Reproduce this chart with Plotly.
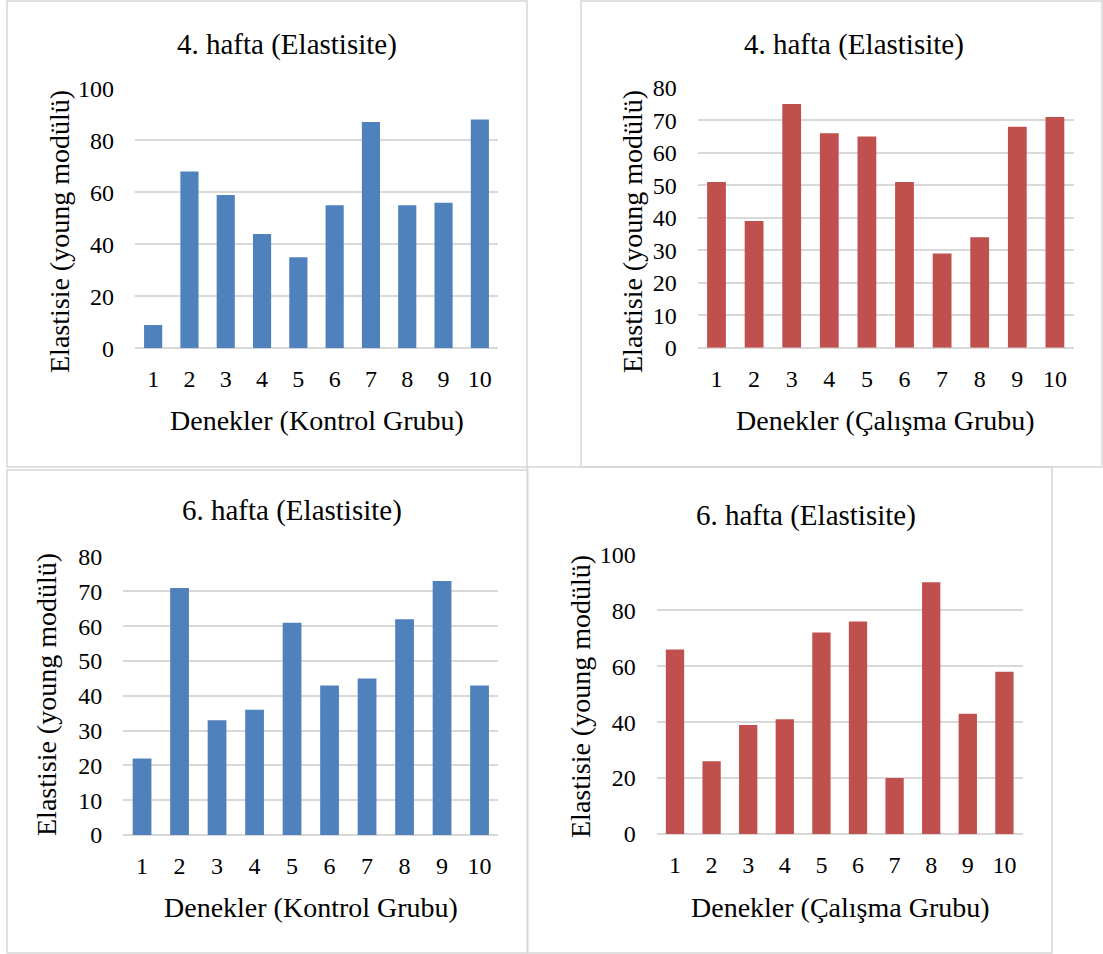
import plotly.graph_objects as go

# Subjects on the category axis
subjects = [str(i) for i in range(1, 11)]

# Elasticity (Young's modulus) per subject
kontrol_hafta4 = [9, 68, 59, 44, 35, 55, 87, 55, 56, 88]
calisma_hafta4 = [51, 39, 75, 66, 65, 51, 29, 34, 68, 71]
kontrol_hafta6 = [22, 71, 33, 36, 61, 43, 45, 62, 73, 43]
calisma_hafta6 = [66, 26, 39, 41, 72, 76, 20, 90, 43, 58]

chart_titles = ["4. hafta (Elastisite)", "4. hafta (Elastisite)",
                "6. hafta (Elastisite)", "6. hafta (Elastisite)"]
x_titles = ["Denekler (Kontrol Grubu)", "Denekler (Çalışma Grubu)",
            "Denekler (Kontrol Grubu)", "Denekler (Çalışma Grubu)"]
y_title = "Elastisie (young modülü)"
y_max = [100, 80, 80, 100]
y_step = [20, 10, 10, 20]

BLUE = "#4f81bd"
RED = "#c0504d"
GRID = "#d9d9d9"
BORDER = "#d6d6d6"
FONT = "Liberation Serif, Times New Roman, serif"

W, H = 1103, 954


def px(x):
    return x / W


def py(y):
    return 1 - y / H


# Layout of each chart box (pixels): frame, plot area, text anchors
panels = [
    dict(values=kontrol_hafta4, color=BLUE,
         frame=(7, 1, 527, 467), plot=(135, 88.3, 498, 348.3),
         title=(286.5, 44), ytitle=(59, 232), xtitle=(317, 420)),
    dict(values=calisma_hafta4, color=RED,
         frame=(581, 1, 1102, 467), plot=(697.7, 87.7, 1073.7, 347.8),
         title=(853.5, 44.5), ytitle=(632, 232), xtitle=(885, 420)),
    dict(values=kontrol_hafta6, color=BLUE,
         frame=(7, 470, 527.5, 953), plot=(123.3, 556.7, 498.3, 835),
         title=(292, 511), ytitle=(46, 695), xtitle=(311, 907)),
    dict(values=calisma_hafta6, color=RED,
         frame=(527.5, 467, 1052, 953), plot=(656.7, 554.3, 1022.7, 834),
         title=(806, 515), ytitle=(580, 697), xtitle=(840, 907)),
]

fig = go.Figure()
annotations = []
shapes = []

for i, p in enumerate(panels):
    n = "" if i == 0 else str(i + 1)
    fig.add_trace(go.Bar(
        x=subjects, y=p["values"],
        xaxis="x" + n, yaxis="y" + n,
        marker=dict(color=p["color"], line=dict(width=0)),
        showlegend=False,
    ))
    x0, y0, x1, y1 = p["plot"]
    fig.layout["xaxis" + n] = dict(
        domain=[px(x0), px(x1)], anchor="y" + n, type="category",
        automargin=False,
        showgrid=False, zeroline=False, showline=False, ticks="",
        ticklabelstandoff=14,
        tickfont=dict(family=FONT, size=24, color="#000000"),
    )
    fig.layout["yaxis" + n] = dict(
        domain=[py(y1), py(y0)], anchor="x" + n,
        automargin=False,
        range=[0, y_max[i]], dtick=y_step[i], tick0=0,
        showgrid=True, gridcolor=GRID, gridwidth=1.5,
        zeroline=True, zerolinecolor=GRID, zerolinewidth=1.5,
        showline=False, ticks="", ticklabelstandoff=20,
        tickfont=dict(family=FONT, size=24, color="#000000"),
    )
    fx0, fy0, fx1, fy1 = p["frame"]
    shapes.append(dict(type="rect", xref="paper", yref="paper",
                       x0=px(fx0), x1=px(fx1), y0=py(fy1), y1=py(fy0),
                       line=dict(color=BORDER, width=1.5),
                       fillcolor="rgba(0,0,0,0)", layer="below"))
    tx, ty = p["title"]
    annotations.append(dict(text=chart_titles[i], x=px(tx), y=py(ty),
                            xref="paper", yref="paper", showarrow=False,
                            xanchor="center", yanchor="middle",
                            font=dict(family=FONT, size=29, color="#000000")))
    ax, ay = p["ytitle"]
    annotations.append(dict(text=y_title, x=px(ax), y=py(ay), textangle=-90,
                            xref="paper", yref="paper", showarrow=False,
                            xanchor="center", yanchor="middle",
                            font=dict(family=FONT, size=28, color="#000000")))
    bx, by = p["xtitle"]
    annotations.append(dict(text=x_titles[i], x=px(bx), y=py(by),
                            xref="paper", yref="paper", showarrow=False,
                            xanchor="center", yanchor="middle",
                            font=dict(family=FONT, size=28, color="#000000")))

fig.update_layout(
    width=W, height=H,
    margin=dict(l=0, r=0, t=0, b=0),
    paper_bgcolor="white", plot_bgcolor="white",
    bargap=0.5,
    annotations=annotations, shapes=shapes,
)

fig.write_html("out.html")
